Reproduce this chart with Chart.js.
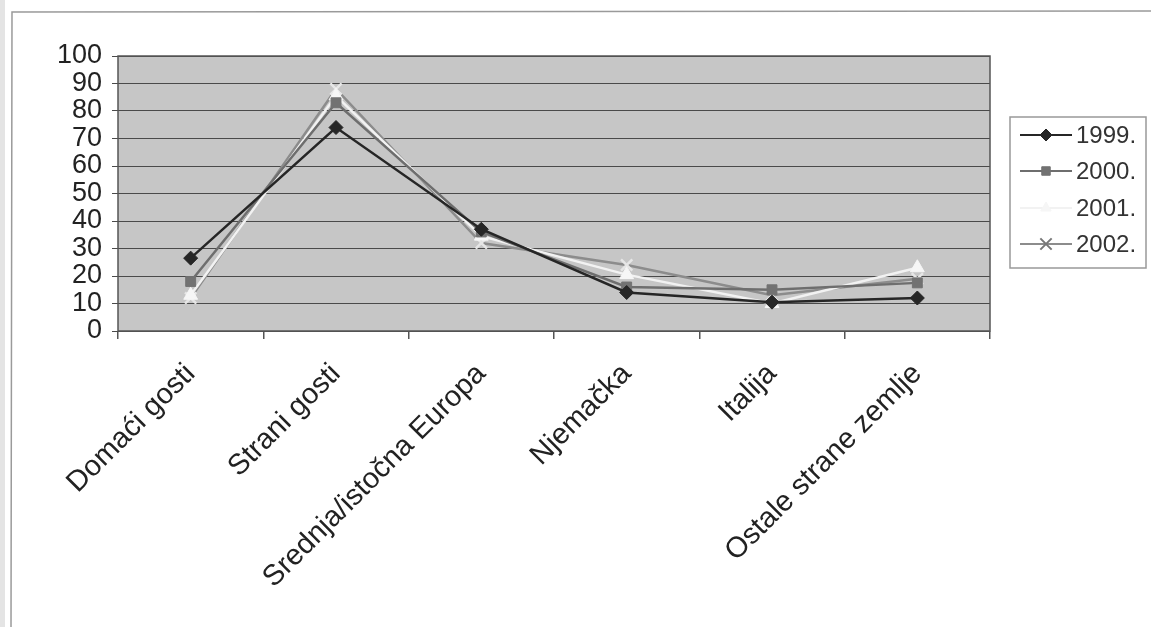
<!DOCTYPE html>
<html>
<head>
<meta charset="utf-8">
<script src="https://cdn.jsdelivr.net/npm/chart.js@4.4.1/dist/chart.umd.min.js"></script>
<style>
html,body{margin:0;padding:0;background:#fff;}
#wrap{width:1151px;height:627px;position:relative;}
</style>
</head>
<body>
<div id="wrap"><canvas id="c" width="1151" height="627"></canvas></div>
<script>
const categories = ["Domaći gosti", "Strani gosti", "Srednja/istočna Europa", "Njemačka", "Italija", "Ostale strane zemlje"];
const seriesNames = ["1999.", "2000.", "2001.", "2002."];
const v1999 = [26.5, 74, 37, 14, 10.5, 12];
const v2000 = [18, 83, 36, 16, 15, 17.5];
const v2001 = [13, 85.5, 34.5, 20.5, 10, 23];
const v2002 = [12, 88, 32, 24, 13, 19];
const yTicks = [0, 10, 20, 30, 40, 50, 60, 70, 80, 90, 100];

const styles = [
  {line:'#262626', fill:'#262626', border:'#262626', ps:'rectRot', r:7},
  {line:'#6e6e6e', fill:'#727272', border:'#727272', ps:'rect', r:7},
  {line:'#f2f2f2', fill:'#f6f6f6', border:'#f6f6f6', ps:'triangle', r:8},
  {line:'#8c8c8c', fill:'#eeeeee', border:'#e6e6e6', ps:'crossRot', r:8}
];
const values = [v1999, v2000, v2001, v2002];

const datasets = seriesNames.map((n, i) => ({
  label: n,
  data: values[i],
  borderColor: styles[i].line,
  backgroundColor: styles[i].fill,
  pointBackgroundColor: styles[i].fill,
  pointBorderColor: styles[i].border,
  pointStyle: styles[i].ps,
  pointRadius: styles[i].r,
  pointBorderWidth: i === 3 ? 2.5 : 1,
  borderWidth: 2.5,
  tension: 0,
  fill: false
}));

const FONT = 'Arial, "Liberation Sans", sans-serif';

const bgPlugin = {
  id: 'bg',
  beforeDraw(chart) {
    const {ctx, chartArea: a} = chart;
    ctx.save();
    ctx.fillStyle = '#fff';
    ctx.fillRect(0, 0, chart.width, chart.height);
    ctx.strokeStyle = '#9a9a9a';
    ctx.lineWidth = 1.5;
    ctx.beginPath();
    ctx.moveTo(1151, 11);
    ctx.lineTo(12, 12);
    ctx.lineTo(11, 627);
    ctx.stroke();
    ctx.fillStyle = '#e4e4e4';
    ctx.fillRect(0, 0, 5, 627);
    ctx.fillStyle = '#c6c6c6';
    ctx.fillRect(a.left, a.top, a.right - a.left, a.bottom - a.top);
    ctx.restore();
  },
  afterDatasetsDraw(chart) {
    const {ctx, chartArea: a} = chart;
    ctx.save();
    ctx.strokeStyle = '#555';
    ctx.lineWidth = 1.5;
    ctx.strokeRect(a.left, a.top, a.right - a.left, a.bottom - a.top);
    ctx.restore();
  },
  afterDraw(chart) {
    const ctx = chart.ctx;
    ctx.save();
    const bx = 1010, by = 117, bw = 136, bh = 151;
    ctx.fillStyle = '#fff';
    ctx.fillRect(bx, by, bw, bh);
    ctx.strokeStyle = '#999';
    ctx.lineWidth = 1.5;
    ctx.strokeRect(bx, by, bw, bh);
    const rows = [135, 171, 208, 244];
    chart.data.datasets.forEach((ds, i) => {
      const y = rows[i];
      ctx.strokeStyle = ds.borderColor;
      ctx.lineWidth = 2;
      ctx.beginPath();
      ctx.moveTo(1020, y);
      ctx.lineTo(1072, y);
      ctx.stroke();
      const legColor = i === 3 ? '#777' : ds.pointBackgroundColor;
      ctx.fillStyle = legColor;
      ctx.strokeStyle = legColor;
      ctx.lineWidth = i === 3 ? 2 : 1;
      Chart.helpers.drawPoint(ctx, {pointStyle: ds.pointStyle, radius: i === 3 ? 8 : 6, borderWidth: ctx.lineWidth, rotation: 0}, 1046, y);
      ctx.fillStyle = '#333';
      ctx.font = '24px ' + FONT;
      ctx.textBaseline = 'middle';
      ctx.textAlign = 'left';
      ctx.fillText(ds.label, 1076, y + 1);
    });
    ctx.restore();
  }
};

new Chart(document.getElementById('c'), {
  type: 'line',
  data: {labels: categories, datasets},
  plugins: [bgPlugin],
  options: {
    responsive: false,
    animation: false,
    devicePixelRatio: 1,
    layout: {padding: {left: 0, top: 56, right: 161, bottom: 0}},
    plugins: {legend: {display: false}, tooltip: {enabled: false}},
    scales: {
      x: {
        offset: true,
        grid: {offset: true, drawOnChartArea: false, color: '#555', tickLength: 8, lineWidth: 1.5},
        border: {display: false},
        ticks: {
          color: '#222',
          font: {family: FONT, size: 29},
          maxRotation: 45, minRotation: 45, padding: 18, autoSkip: false
        },
        afterFit(s) { s.height = 296; }
      },
      y: {
        min: 0, max: 100,
        afterBuildTicks(s) { s.ticks = yTicks.map(v => ({value: v})); },
        grid: {color: '#4a4a4a', lineWidth: 1, tickLength: 6},
        border: {display: false},
        ticks: {
          color: '#222',
          font: {family: FONT, size: 27},
          padding: 10,
          autoSkip: false,
          callback: v => String(v)
        },
        afterFit(s) { s.width = 118; }
      }
    }
  }
});
</script>
</body>
</html>
